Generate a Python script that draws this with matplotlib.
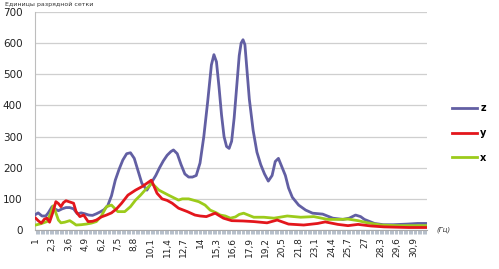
import matplotlib
matplotlib.use("Agg")
import matplotlib.pyplot as plt
from matplotlib.ticker import FixedLocator, MultipleLocator

# frequency (Hz) and amplitude (units of the ADC grid) for each axis
z_freq = [1.0, 1.2, 1.5, 1.8, 2.0, 2.3, 2.5, 2.8, 3.1, 3.4, 3.7, 4.0, 4.3, 4.6, 4.9,
          5.2, 5.5, 5.8, 6.1, 6.4, 6.7, 7.0, 7.3, 7.6, 7.9, 8.2, 8.5, 8.8, 9.1, 9.4,
          9.8, 10.2, 10.5, 10.8, 11.1, 11.4, 11.7, 11.9, 12.2, 12.5, 12.8, 13.1, 13.4,
          13.7, 14.0, 14.3, 14.6, 14.9, 15.1, 15.3, 15.5, 15.7, 15.9, 16.1, 16.3, 16.5,
          16.7, 16.9, 17.1, 17.25, 17.4, 17.55, 17.7, 17.9, 18.2, 18.5, 18.8, 19.1,
          19.4, 19.7, 19.95, 20.2, 20.45, 20.75, 21.0, 21.3, 21.8, 22.35, 22.9, 23.7,
          24.5, 25.3, 25.8, 26.3, 26.7, 27.0, 27.8, 28.5, 29.3, 30.4, 31.2, 31.9]
z_vals = [50, 55, 45, 45, 55, 75, 68, 62, 68, 72, 72, 68, 52, 55, 52,
          48, 47, 52, 58, 65, 78, 110, 160, 195, 225, 245, 248, 230, 190, 150,
          128, 155, 175, 200, 222, 240, 252, 257, 245, 210, 180, 170, 170,
          175, 215, 300, 410, 530, 563, 540, 460, 370, 300, 268, 262, 285,
          360, 460, 560, 600, 611, 595, 520, 420, 320, 250, 210, 180,
          157, 175, 220, 230, 205, 175, 135, 105, 80, 64, 54, 51,
          38, 34, 38, 48, 43, 34, 21, 17, 17, 19, 21, 21]

y_freq = [1.0, 1.2, 1.45, 1.7, 1.9, 2.1, 2.35, 2.6, 2.8, 3.0, 3.2, 3.4, 3.7, 4.0, 4.2,
          4.5, 4.8, 5.15, 5.5, 5.8, 6.2, 6.6, 7.0, 7.4, 7.8, 8.3, 8.9, 9.4, 9.8, 10.15,
          10.6, 11.0, 11.4, 11.8, 12.3, 13.0, 13.6, 14.0, 14.5, 15.2, 15.85, 16.5,
          17.4, 18.25, 19.3, 20.1, 21.0, 22.2, 23.3, 23.9, 24.9, 25.7, 26.5, 27.5,
          28.55, 29.5, 30.5, 31.9]
y_vals = [38, 30, 22, 35, 38, 25, 55, 91, 85, 75, 88, 94, 90, 86, 59,
          43, 48, 27, 28, 32, 42, 48, 55, 68, 86, 112, 128, 139, 150, 160,
          118, 100, 95, 86, 70, 59, 48, 45, 43, 54, 38, 30,
          29, 27, 23, 32, 19, 16, 21, 26, 18, 14, 18, 13,
          10, 9, 8, 8]

x_freq = [1.0, 1.4, 1.9, 2.15, 2.4, 2.6, 2.8, 3.0, 3.3, 3.7, 4.0, 4.2, 4.6, 5.0, 5.4,
          5.8, 6.2, 6.6, 7.0, 7.5, 8.05, 8.5, 8.9, 9.3, 9.65, 10.2, 10.75, 11.5, 12.3,
          12.6, 13.1, 13.9, 14.4, 14.8, 15.3, 15.6, 16.0, 16.4, 16.8, 17.1, 17.45,
          18.0, 18.25, 19.05, 19.85, 20.9, 21.96, 23.0, 24.1, 24.9, 25.7, 26.5,
          27.25, 28.3, 29.6, 31.9]
x_vals = [16, 20, 27, 50, 78, 55, 32, 23, 25, 30, 22, 16, 17, 19, 22,
          27, 45, 75, 80, 59, 59, 75, 96, 112, 128, 150, 128, 112, 96,
          100, 100, 91, 80, 64, 55, 48, 45, 38, 42, 50, 54,
          45, 41, 41, 38, 45, 41, 43, 34, 34, 35, 30,
          23, 16, 14, 14]

tick_values = [1, 2.3, 3.6, 4.9, 6.2, 7.5, 8.8, 10.1, 11.4, 12.7, 14, 15.3, 16.6,
               17.9, 19.2, 20.5, 21.8, 23.1, 24.4, 25.7, 27, 28.3, 29.6, 30.9]
tick_labels = ["1", "2,3", "3,6", "4,9", "6,2", "7,5", "8,8", "10,1", "11,4", "12,7",
               "14", "15,3", "16,6", "17,9", "19,2", "20,5", "21,8", "23,1", "24,4",
               "25,7", "27", "28,3", "29,6", "30,9"]

colors = {"z": "#625FA3", "y": "#E3161C", "x": "#9CCB1B"}

fig = plt.figure(figsize=(4.99, 2.69), dpi=100)
ax = fig.add_axes([35 / 499, 39 / 269, 392 / 499, 218 / 269])

lz, = ax.plot(z_freq, z_vals, color=colors["z"], lw=2.0, label="z", zorder=3)
lx, = ax.plot(x_freq, x_vals, color=colors["x"], lw=2.0, label="x", zorder=4)
ly, = ax.plot(y_freq, y_vals, color=colors["y"], lw=2.0, label="y", zorder=5)

ax.set_xlim(0.95, 31.95)
ax.set_ylim(0, 700)
ax.set_yticks(range(0, 701, 100))
ax.yaxis.grid(True, color="#cfcfcf", lw=0.9)
ax.set_axisbelow(True)

ax.xaxis.set_major_locator(FixedLocator(tick_values))
ax.set_xticklabels(tick_labels, rotation=90, fontsize=6.5, color="#222222")
ax.xaxis.set_minor_locator(MultipleLocator(0.1))
ax.tick_params(axis="x", which="both", direction="out", length=3, width=0.6,
               color="#a9b4c2", pad=2)
ax.tick_params(axis="y", length=0, pad=9, labelsize=7.5, labelcolor="#222222")

for side in ("top", "right"):
    ax.spines[side].set_visible(False)
ax.spines["left"].set_color("#bdbdbd")
ax.spines["bottom"].set_color("#a9a9a9")

fig.legend(handles=[lz, ly, lx], loc="center left", bbox_to_anchor=(452 / 499, 1 - 133 / 269),
           frameon=False, prop={"size": 7, "weight": "bold"}, handlelength=2.6,
           handletextpad=0.3, labelspacing=1.5, borderpad=0, borderaxespad=0)

fig.text(5 / 499, 1 - 2 / 269, "Единицы разрядной сетки", fontsize=4.5, va="top",
         color="#333333")
fig.text(436 / 499, 1 - 230 / 269, "(Гц)", fontsize=5, style="italic", va="center",
         color="#333333")

fig.savefig("out.png", dpi=100)
